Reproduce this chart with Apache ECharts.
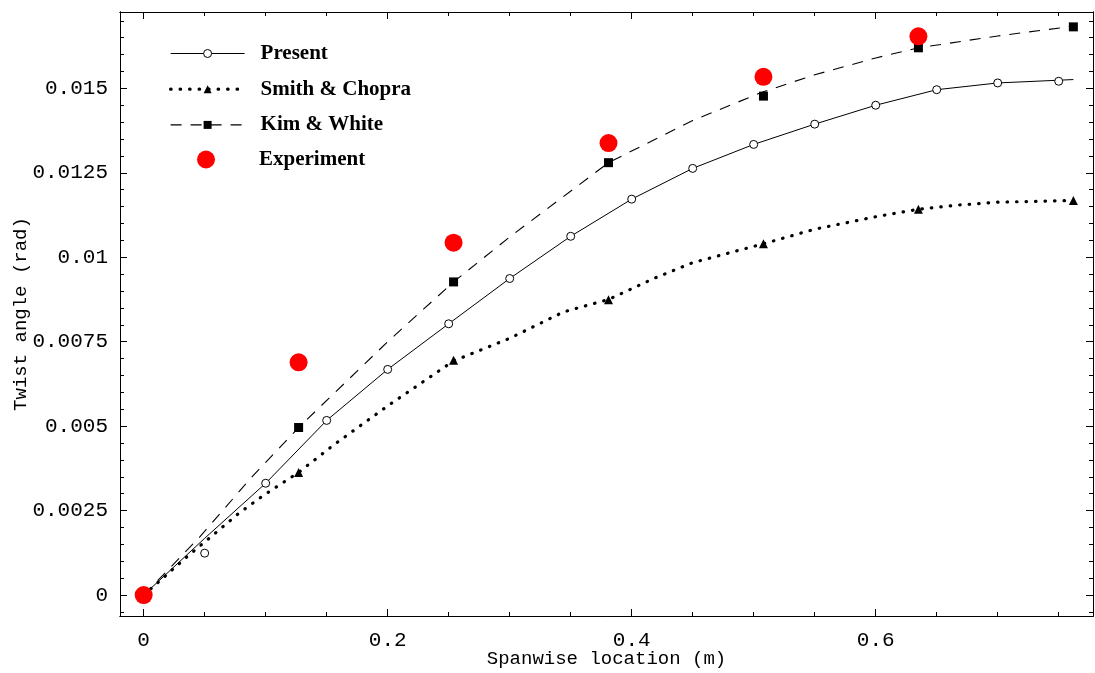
<!DOCTYPE html>
<html>
<head>
<meta charset="utf-8">
<script src="https://cdn.jsdelivr.net/npm/echarts@6/dist/echarts.min.js"></script>
<style>
  html, body { margin: 0; padding: 0; background: #fff; }
  #chart { width: 1095px; height: 673px; }
</style>
</head>
<body>
<div id="chart"></div>
<script>
// ---- Data: spanwise location (m) vs twist angle (rad) ----

// "Present" model: continuous curve and its plotted stations
const presentLineX = [0, 0.05, 0.1, 0.15, 0.2, 0.25, 0.3, 0.35, 0.4, 0.45, 0.5, 0.55, 0.6, 0.65, 0.7, 0.762];
const presentLineY = [0, 0.00168, 0.00331, 0.00517, 0.00668, 0.00803, 0.00937, 0.01062, 0.01172, 0.01263, 0.01334, 0.01394, 0.0145, 0.01496, 0.01516, 0.01526];
const presentMarkX = [0, 0.05, 0.1, 0.15, 0.2, 0.25, 0.3, 0.35, 0.4, 0.45, 0.5, 0.55, 0.6, 0.65, 0.7, 0.75];
const presentMarkY = [0, 0.00124, 0.00331, 0.00517, 0.00668, 0.00803, 0.00937, 0.01062, 0.01172, 0.01263, 0.01334, 0.01394, 0.0145, 0.01496, 0.01516, 0.01521];

// Smith & Chopra: dotted curve and triangle stations
const smithLineX = [0, 0.011, 0.035, 0.053, 0.078, 0.097, 0.127, 0.156, 0.2, 0.254, 0.3, 0.344, 0.381, 0.418, 0.45, 0.508, 0.55, 0.6, 0.635, 0.666, 0.7, 0.762];
const smithLineY = [0, 0.00035, 0.00112, 0.00166, 0.00242, 0.00292, 0.00363, 0.00445, 0.0056, 0.00693, 0.0076, 0.00838, 0.00875, 0.00937, 0.00984, 0.0104, 0.01083, 0.0112, 0.01142, 0.01154, 0.01163, 0.01168];
const smithMarkX = [0.127, 0.254, 0.381, 0.508, 0.635, 0.762];
const smithMarkY = [0.00363, 0.00695, 0.00874, 0.0104, 0.01142, 0.01168];

// Kim & White: dashed curve and square stations
const kimLineX = [0, 0.046, 0.0885, 0.127, 0.2, 0.254, 0.3, 0.381, 0.45, 0.508, 0.55, 0.6, 0.635, 0.7, 0.762];
const kimLineY = [0, 0.00172, 0.00349, 0.00496, 0.0075, 0.00927, 0.0106, 0.0128, 0.01405, 0.0149, 0.0154, 0.0159, 0.0162, 0.01655, 0.01684];
const kimMarkX = [0.127, 0.254, 0.381, 0.508, 0.635, 0.762];
const kimMarkY = [0.00496, 0.00927, 0.0128, 0.01477, 0.0162, 0.01682];

// Experiment
const expX = [0, 0.127, 0.254, 0.381, 0.508, 0.635];
const expY = [0, 0.00689, 0.01043, 0.01338, 0.01534, 0.01654];

// ---- Axis ticks ----
const xMajorTicks = [0, 0.2, 0.4, 0.6];
const xTickLabels = ['0', '0.2', '0.4', '0.6'];
const xMinorTicks = [0.05, 0.1, 0.15, 0.25, 0.3, 0.35, 0.45, 0.5, 0.55, 0.65, 0.7, 0.75];
const yMajorTicks = [0, 0.0025, 0.005, 0.0075, 0.01, 0.0125, 0.015];
const yTickLabels = ['0', '0.0025', '0.005', '0.0075', '0.01', '0.0125', '0.015'];
const yMinorTicks = [-0.0005, 0.0005, 0.001, 0.0015, 0.002, 0.003, 0.0035, 0.004, 0.0045,
  0.0055, 0.006, 0.0065, 0.007, 0.008, 0.0085, 0.009, 0.0095, 0.0105, 0.011, 0.0115, 0.012,
  0.013, 0.0135, 0.014, 0.0145, 0.0155, 0.016, 0.0165, 0.017];

const X_MIN = -0.0194, X_MAX = 0.7781;
const Y_MIN = -0.00062, Y_MAX = 0.01726;

const zip = (xs, ys) => xs.map((x, i) => [x, ys[i]]);
const labelFor = (vals, labels) => v => {
  const i = vals.findIndex(t => Math.abs(t - v) < 1e-9);
  return i >= 0 ? labels[i] : '';
};

const monoLabel = { fontFamily: 'Liberation Mono', fontSize: 21, color: '#000' };
const monoName = { fontFamily: 'Liberation Mono', fontSize: 19, color: '#000' };
const blackLine = { show: true, onZero: false, lineStyle: { color: '#000', width: 1 } };

function xAxisDef(gridIndex, position, ticks, len, withLabels) {
  return {
    type: 'value', gridIndex, position, min: X_MIN, max: X_MAX,
    axisLine: blackLine,
    axisTick: { show: true, inside: true, length: len, customValues: ticks, lineStyle: { color: '#000', width: 1 } },
    axisLabel: withLabels
      ? Object.assign({ show: true, margin: 14, customValues: xMajorTicks, formatter: labelFor(xMajorTicks, xTickLabels) }, monoLabel)
      : { show: false },
    splitLine: { show: false },
    name: withLabels ? 'Spanwise location (m)' : '',
    nameLocation: 'middle', nameGap: 33, nameMoveOverlap: false, nameTextStyle: monoName
  };
}
function yAxisDef(gridIndex, position, ticks, len, withLabels) {
  return {
    type: 'value', gridIndex, position, min: Y_MIN, max: Y_MAX,
    axisLine: blackLine,
    axisTick: { show: true, inside: true, length: len, customValues: ticks, lineStyle: { color: '#000', width: 1 } },
    axisLabel: withLabels
      ? Object.assign({ show: true, margin: 12, customValues: yMajorTicks, formatter: labelFor(yMajorTicks, yTickLabels) }, monoLabel)
      : { show: false },
    splitLine: { show: false },
    name: withLabels ? 'Twist angle (rad)' : '',
    nameLocation: 'middle', nameGap: 90, nameMoveOverlap: false, nameTextStyle: monoName
  };
}

const gridBox = { left: 120, right: 2, top: 12, bottom: 57, containLabel: false, outerBoundsMode: 'none' };
const legendText = { fontFamily: 'Liberation Serif', fontWeight: 'bold', fontSize: 21, lineHeight: 21, color: '#000', padding: [0, 0, 0, 11] };

const option = {
  animation: false,
  backgroundColor: '#fff',
  grid: [Object.assign({}, gridBox), Object.assign({}, gridBox)],
  xAxis: [
    xAxisDef(0, 'bottom', xMajorTicks, 7, true),
    xAxisDef(0, 'top', xMajorTicks, 7, false),
    xAxisDef(1, 'bottom', xMinorTicks, 4, false),
    xAxisDef(1, 'top', xMinorTicks, 4, false)
  ],
  yAxis: [
    yAxisDef(0, 'left', yMajorTicks, 7, true),
    yAxisDef(0, 'right', yMajorTicks, 7, false),
    yAxisDef(1, 'left', yMinorTicks, 4, false),
    yAxisDef(1, 'right', yMinorTicks, 4, false)
  ],
  legend: [
    {
      orient: 'vertical', left: 169, top: 43, padding: 0,
      itemWidth: 74, itemHeight: 10, itemGap: 14.7,
      selectedMode: false,
      textStyle: legendText,
      lineStyle: { width: 'inherit' },
      data: [
        { name: 'Present', itemStyle: { color: '#fff', borderColor: '#000', borderWidth: 1 }, lineStyle: { width: 1 } },
        { name: 'Smith & Chopra', itemStyle: { color: '#000', borderWidth: 0 }, lineStyle: { width: 3.2 } },
        { name: 'Kim & White', itemStyle: { color: '#000', borderWidth: 0 }, lineStyle: { width: 1.1 } }
      ]
    },
    {
      orient: 'vertical', left: 197, top: 149, padding: 0,
      itemWidth: 74, itemHeight: 18,
      selectedMode: false,
      textStyle: legendText,
      data: [{ name: 'Experiment', itemStyle: { color: '#ff0000', opacity: 1 } }]
    }
  ],
  series: [
    {
      name: 'Present', type: 'line', xAxisIndex: 0, yAxisIndex: 0,
      data: zip(presentLineX, presentLineY),
      symbol: 'circle', showSymbol: false, silent: true, z: 2,
      lineStyle: { color: '#000', width: 1 },
      itemStyle: { color: '#fff', borderColor: '#000', borderWidth: 1 }
    },
    {
      name: 'presentStations', type: 'scatter', xAxisIndex: 0, yAxisIndex: 0,
      data: zip(presentMarkX, presentMarkY),
      symbol: 'circle', symbolSize: 8, silent: true, z: 3,
      itemStyle: { color: '#fff', borderColor: '#000', borderWidth: 1, opacity: 1 }
    },
    {
      name: 'Smith & Chopra', type: 'line', xAxisIndex: 0, yAxisIndex: 0,
      data: zip(smithLineX, smithLineY),
      symbol: 'triangle', showSymbol: false, silent: true, z: 2,
      lineStyle: { color: '#000', width: 3.2, type: [0.5, 9], cap: 'round' },
      itemStyle: { color: '#000' }
    },
    {
      name: 'smithStations', type: 'scatter', xAxisIndex: 0, yAxisIndex: 0,
      data: zip(smithMarkX, smithMarkY),
      symbol: 'triangle', symbolSize: 9, silent: true, z: 3,
      itemStyle: { color: '#000', opacity: 1 }
    },
    {
      name: 'Kim & White', type: 'line', xAxisIndex: 0, yAxisIndex: 0,
      data: zip(kimLineX, kimLineY),
      symbol: 'rect', showSymbol: false, silent: true, z: 2,
      lineStyle: { color: '#000', width: 1.1, type: [11, 9] },
      itemStyle: { color: '#000' }
    },
    {
      name: 'kimStations', type: 'scatter', xAxisIndex: 0, yAxisIndex: 0,
      data: zip(kimMarkX, kimMarkY),
      symbol: 'rect', symbolSize: 9, silent: true, z: 3,
      itemStyle: { color: '#000', opacity: 1 }
    },
    {
      name: 'Experiment', type: 'scatter', xAxisIndex: 0, yAxisIndex: 0,
      data: zip(expX, expY),
      symbol: 'circle', symbolSize: 18, silent: true, z: 5,
      itemStyle: { color: '#ff0000', opacity: 1 }
    }
  ]
};

const chart = echarts.init(document.getElementById('chart'), null, { renderer: 'canvas' });
chart.setOption(option);
</script>
</body>
</html>
